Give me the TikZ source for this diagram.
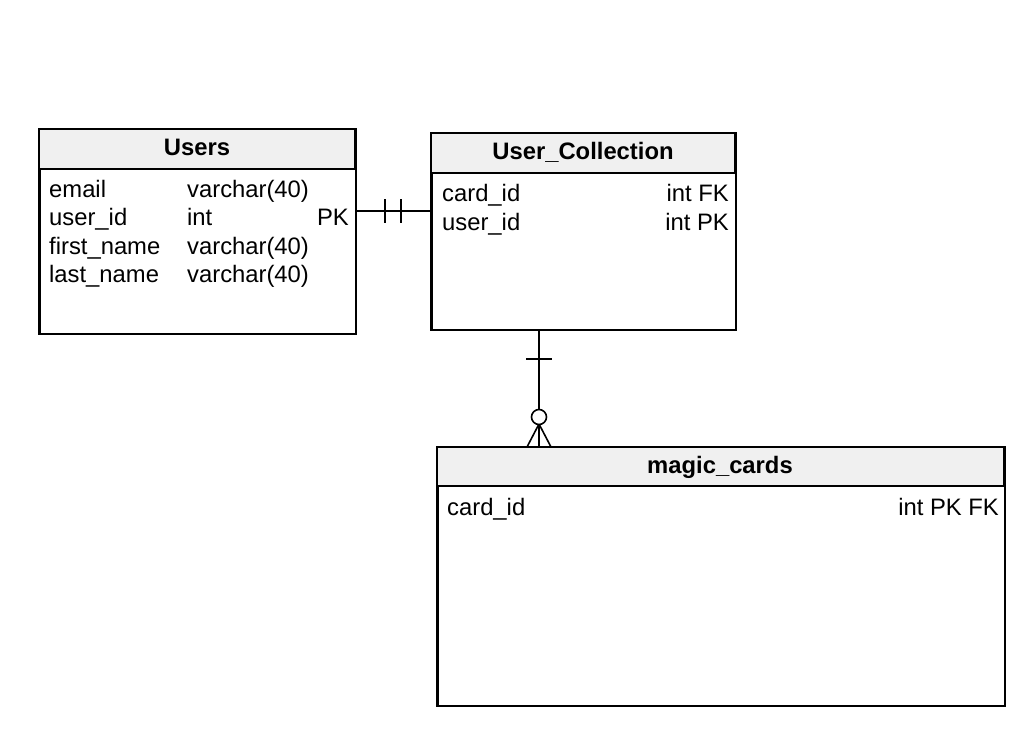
\documentclass[tikz,border=0pt]{standalone}
\usepackage{fontspec}
\setmainfont{Liberation Sans}
\begin{document}
\begin{tikzpicture}[x=1pt,y=-1pt,
  every node/.style={font=\fontsize{23.8}{28}\selectfont, inner sep=0pt},
  tbl/.style={draw, line width=1.6pt, anchor=north west, minimum width=#1},
  hdr/.style={fill=black!6, draw, line width=1.6pt},
  ttl/.style={font=\fontsize{23.8}{28}\selectfont\bfseries, anchor=base},
  fld/.style={anchor=base west},
  fldr/.style={anchor=base east},
  conn/.style={line width=1.6pt}]
\useasboundingbox (0,0) rectangle (1034,748);
% Users
\node[tbl=316pt, minimum height=204pt] (users) at (39,129) {};
\filldraw[hdr] (39,129) rectangle (355,169);
\node[ttl] (usersT) at (197,155) {Users};
\node[fld] (u1) at (49,197) {email};
\node[fld] (u2) at (49,225) {user\_id};
\node[fld] (u3) at (49,254) {first\_name};
\node[fld] (u4) at (49,282) {last\_name};
\node[fld] (u1t) at (187,197) {varchar(40)};
\node[fld] (u2t) at (187,225) {int};
\node[fld] (u3t) at (187,254) {varchar(40)};
\node[fld] (u4t) at (187,282) {varchar(40)};
\node[fldr] (u2k) at (349,225) {PK};
\draw[line width=1.6pt] (users.north west) rectangle (users.south east);
% User_Collection
\node[tbl=304pt, minimum height=196pt] (uc) at (431,133) {};
\filldraw[hdr] (431,133) rectangle (735,173);
\node[ttl] (ucT) at (583,159) {User\_Collection};
\node[fld] (c1) at (442,201) {card\_id};
\node[fld] (c2) at (442,230) {user\_id};
\node[fldr] (c1k) at (729,201) {int FK};
\node[fldr] (c2k) at (729,230) {int PK};
\draw[line width=1.6pt] (uc.north west) rectangle (uc.south east);
% magic_cards
\node[tbl=567pt, minimum height=258pt] (mc) at (437,447) {};
\filldraw[hdr] (437,447) rectangle (1004,486);
\node[ttl] (mcT) at (720,473) {magic\_cards};
\node[fld] (m1) at (447,515) {card\_id};
\node[fldr] (m1k) at (999,515) {int PK FK};
\draw[line width=1.6pt] (mc.north west) rectangle (mc.south east);
% connector Users -- User_Collection
\coordinate (a1) at (users.east |- 0,211);
\coordinate (a2) at (uc.west |- 0,211);
\draw[conn] (a1) -- (a2);
\draw[conn] (385,199) -- (385,223);
\draw[conn] (401,199) -- (401,223);
% connector User_Collection -- magic_cards
\coordinate (b1) at (uc.south -| 539,0);
\coordinate (b2) at (mc.north -| 539,0);
\draw[conn] (b1) -- (b2);
\draw[conn] (526,359) -- (552,359);
\draw[conn] (527,447) -- (539,424) -- (551,447);
\draw[conn, fill=white] (539,417) circle (7.5);
\end{tikzpicture}
\end{document}
